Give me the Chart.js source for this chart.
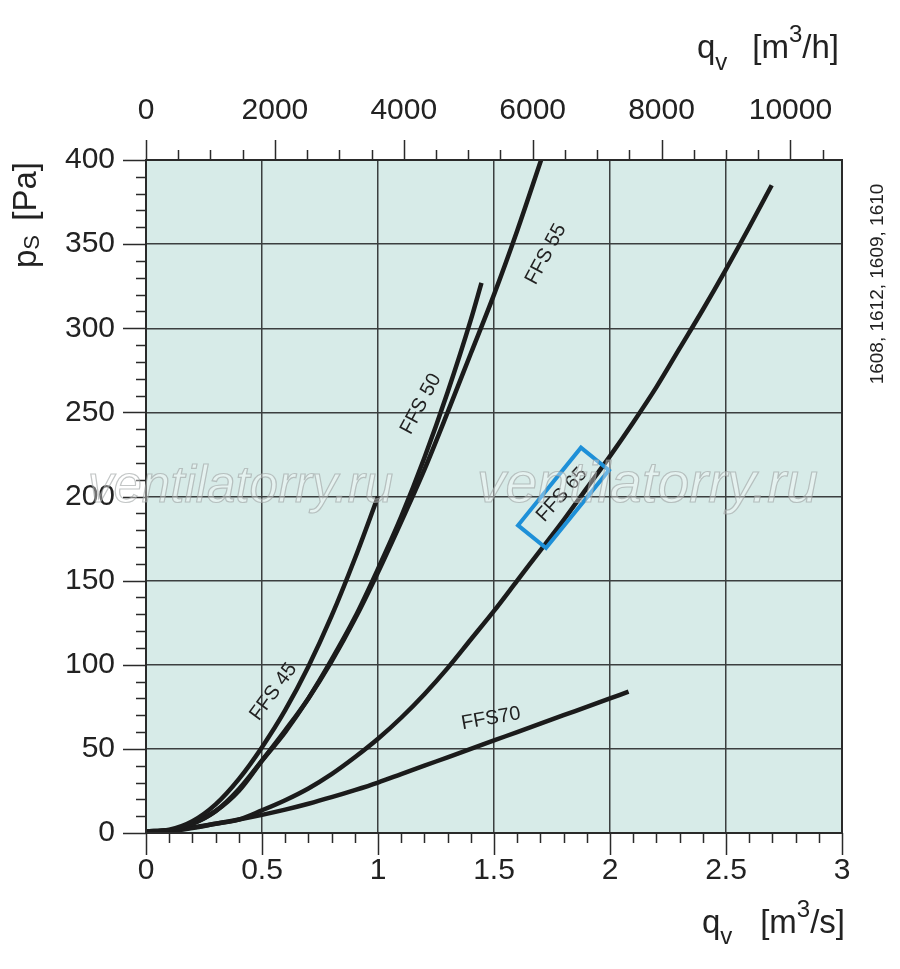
<!DOCTYPE html>
<html>
<head>
<meta charset="utf-8">
<script src="https://cdn.jsdelivr.net/npm/chart.js@4.4.1/dist/chart.umd.min.js"></script>
<style>
    html, body { margin: 0; padding: 0; background: #fff; }
    #wrap { width: 900px; height: 969px; }
</style>
</head>
<body>
<div id="wrap"><canvas id="fanChart" width="900" height="969"></canvas></div>
<script>
// air flow q_v [m3/s] and static pressure p_s [Pa]
const ffs45Flow = [0, 0.1, 0.2, 0.3, 0.4, 0.5, 0.6, 0.7, 0.8, 0.9, 1.0];
const ffs45Pressure = [1, 2, 7, 17, 32, 51, 73, 99, 129, 163, 200];

const ffs50Flow = [0, 0.1, 0.2, 0.3, 0.4, 0.5, 0.6, 0.7, 0.8, 0.9, 1.0, 1.1, 1.2, 1.3, 1.4, 1.446];
const ffs50Pressure = [1, 1.5, 5.5, 13, 26, 43, 60, 80, 103, 128, 157, 188, 223, 262, 305, 327];

const ffs55Flow = [0, 0.1, 0.2, 0.3, 0.4, 0.5, 0.6, 0.7, 0.8, 0.9, 1.0, 1.1, 1.2, 1.3, 1.4, 1.5, 1.6, 1.703];
const ffs55Pressure = [1, 1.5, 5.5, 13, 25, 43, 61, 80, 102, 127, 155, 185, 216, 250, 285, 320, 358, 400];

const ffs65Flow = [0, 0.1, 0.2, 0.3, 0.4, 0.5, 0.6, 0.7, 0.8, 0.9, 1.0, 1.1, 1.2, 1.3, 1.4, 1.5, 1.6, 1.7, 1.8, 1.9, 2.0, 2.1, 2.2, 2.3, 2.4, 2.5, 2.6, 2.697];
const ffs65Pressure = [1, 1.2, 3, 5.5, 8, 13.5, 19.5, 26.5, 35, 45, 56, 68.5, 82.5, 98, 115, 132, 150, 168, 186, 205, 224, 244, 265, 288, 311, 335, 360, 385];

const ffs70Flow = [0, 0.1, 0.2, 0.3, 0.4, 0.5, 0.6, 0.7, 0.8, 0.9, 1.0, 1.1, 1.2, 1.3, 1.4, 1.5, 1.6, 1.7, 1.8, 1.9, 2.0, 2.08];
const ffs70Pressure = [1, 1.6, 3.2, 5.5, 8, 10.8, 13.9, 17.4, 21.3, 25.5, 30, 35, 40, 45, 50, 55, 60, 65, 70, 75, 80, 84];

// tick labels
const flowTicks = [0, 0.5, 1, 1.5, 2, 2.5, 3];          // m3/s
const pressureTicks = [0, 50, 100, 150, 200, 250, 300, 350, 400];
const hourTicks = [0, 2000, 4000, 6000, 8000, 10000];   // m3/h

const seriesNames = ['FFS 45', 'FFS 50', 'FFS 55', 'FFS 65', 'FFS70'];
const seriesFlow = [ffs45Flow, ffs50Flow, ffs55Flow, ffs65Flow, ffs70Flow];
const seriesPressure = [ffs45Pressure, ffs50Pressure, ffs55Pressure, ffs65Pressure, ffs70Pressure];

const FONT = '"Liberation Sans", Arial, Helvetica, sans-serif';
const INK = '#222222';
const CURVE = '#1b1b1b';
const GRID = '#3b3f3f';
const PLOT_BG = '#d7ebe8';
const BOX_BLUE = '#1e90d8';

// where the curve names sit (in chart units)
const curveLabels = [
    { text: 'FFS 45', q: 0.55, p: 84, angle: -54 },
    { text: 'FFS 50', q: 1.185, p: 255, angle: -62 },
    { text: 'FFS 55', q: 1.724, p: 344, angle: -62 },
    { text: 'FFS 65', q: 1.793, p: 201, angle: -48 },
    { text: 'FFS70', q: 1.487, p: 68, angle: -10 }
];

const datasets = seriesNames.map((name, i) => ({
    label: name,
    data: seriesFlow[i].map((q, k) => ({ x: q, y: seriesPressure[i][k] })),
    borderColor: CURVE,
    borderWidth: 4.5,
    pointRadius: 0,
    fill: false,
    cubicInterpolationMode: 'monotone'
}));

function drawTicks(ctx, chart) {
    const a = chart.chartArea;
    const xs = chart.scales.x, ys = chart.scales.y, x2 = chart.scales.x2;
    ctx.strokeStyle = '#2a2a2a';
    ctx.lineWidth = 1.5;
    ctx.beginPath();
    // bottom: every 0.1 m3/s
    for (let i = 0; i <= 30; i++) {
        const px = Math.round(xs.getPixelForValue(i / 10)) + 0.5;
        const len = i % 5 === 0 ? 22 : 10;
        ctx.moveTo(px, a.bottom);
        ctx.lineTo(px, a.bottom + len);
    }
    // left: every 10 Pa
    for (let i = 0; i <= 40; i++) {
        const py = Math.round(ys.getPixelForValue(i * 10)) + 0.5;
        const len = i % 5 === 0 ? 23 : 10;
        ctx.moveTo(a.left, py);
        ctx.lineTo(a.left - len, py);
    }
    // top: every 500 m3/h
    for (let i = 0; i <= 21; i++) {
        const px = Math.round(x2.getPixelForValue(i * 500)) + 0.5;
        const len = i % 4 === 0 ? 20 : 10;
        ctx.moveTo(px, a.top);
        ctx.lineTo(px, a.top - len);
    }
    ctx.stroke();
}

// pieces: [text, font size, baseline shift]
function piecesWidth(ctx, pieces) {
    let w = 0;
    pieces.forEach(([str, size]) => {
        ctx.font = size + 'px ' + FONT;
        w += ctx.measureText(str).width;
    });
    return w;
}

function drawPieces(ctx, pieces, x, y) {
    let cx = x;
    pieces.forEach(([str, size, shift]) => {
        ctx.font = size + 'px ' + FONT;
        ctx.fillText(str, cx, y + shift);
        cx += ctx.measureText(str).width;
    });
}

// unit title: symbol starts at x0, bracket part ends at x1
function drawUnitTitle(ctx, symbol, unit, x0, x1, y) {
    drawPieces(ctx, symbol, x0, y);
    drawPieces(ctx, unit, x1 - piecesWidth(ctx, unit), y);
}

const decor = {
    id: 'decor',
    beforeDraw(chart) {
        const { ctx, chartArea: a } = chart;
        ctx.save();
        ctx.fillStyle = '#ffffff';
        ctx.fillRect(0, 0, chart.width, chart.height);
        ctx.fillStyle = PLOT_BG;
        ctx.fillRect(a.left, a.top, a.right - a.left, a.bottom - a.top);
        ctx.restore();
    },
    afterDraw(chart) {
        const { ctx, chartArea: a } = chart;
        const xs = chart.scales.x, ys = chart.scales.y;
        ctx.save();

        // frame
        ctx.strokeStyle = '#2a2a2a';
        ctx.lineWidth = 2;
        ctx.strokeRect(a.left, a.top, a.right - a.left, a.bottom - a.top);
        drawTicks(ctx, chart);

        // curve names
        ctx.fillStyle = INK;
        ctx.textAlign = 'center';
        ctx.textBaseline = 'middle';
        ctx.font = '20px ' + FONT;
        curveLabels.forEach(l => {
            ctx.save();
            ctx.translate(xs.getPixelForValue(l.q), ys.getPixelForValue(l.p));
            ctx.rotate(l.angle * Math.PI / 180);
            ctx.fillText(l.text, 0, 0);
            ctx.restore();
        });

        // blue frame around FFS 65
        ctx.save();
        ctx.translate(xs.getPixelForValue(1.7995), ys.getPixelForValue(199.2));
        ctx.rotate(-51 * Math.PI / 180);
        ctx.strokeStyle = BOX_BLUE;
        ctx.lineWidth = 4;
        ctx.strokeRect(-50, -18, 100, 36);
        ctx.restore();

        // watermark
        ctx.textAlign = 'left';
        ctx.textBaseline = 'alphabetic';
        ctx.fillStyle = 'rgba(255,255,255,0.35)';
        ctx.strokeStyle = 'rgba(155,160,160,0.6)';
        ctx.lineWidth = 1.2;
        [[88, 51], [477, 57]].forEach(([x, size]) => {
            ctx.font = 'italic ' + size + 'px ' + FONT;
            ctx.fillText('ventilatorry.ru', x, 502);
            ctx.strokeText('ventilatorry.ru', x, 502);
        });

        // axis titles
        ctx.fillStyle = INK;
        ctx.textAlign = 'left';
        ctx.textBaseline = 'alphabetic';
        // bottom q_v [m3/s]
        drawUnitTitle(ctx, [['q', 33, 0], ['v', 24, 11]],
            [['[m', 33, 0], ['3', 24, -16], ['/s]', 33, 0]], 702, 845, 933);
        // top q_v [m3/h]
        drawUnitTitle(ctx, [['q', 33, 0], ['v', 24, 12]],
            [['[m', 33, 0], ['3', 24, -16], ['/h]', 33, 0]], 697, 839, 58);
        // left p_S [Pa]
        ctx.save();
        ctx.translate(36, 268);
        ctx.rotate(-Math.PI / 2);
        drawUnitTitle(ctx, [['p', 33, 0], ['S', 22, 3]], [['[Pa]', 33, 0]], 0, 106, 0);
        ctx.restore();

        // series codes on the right
        ctx.save();
        ctx.translate(883, 284);
        ctx.rotate(-Math.PI / 2);
        ctx.font = '19px ' + FONT;
        ctx.textAlign = 'center';
        ctx.fillText('1608, 1612, 1609, 1610', 0, 0);
        ctx.restore();

        ctx.restore();
    }
};

const tickFont = { family: FONT, size: 30 };

new Chart(document.getElementById('fanChart'), {
    type: 'line',
    data: { datasets },
    options: {
        responsive: false,
        animation: false,
        devicePixelRatio: 1,
        layout: { padding: { left: 0, right: 58, top: 0, bottom: 0 } },
        plugins: { legend: { display: false }, tooltip: { enabled: false } },
        scales: {
            x: {
                type: 'linear', position: 'bottom', min: 0, max: 3,
                afterBuildTicks: s => { s.ticks = flowTicks.map(v => ({ value: v })); },
                afterFit: s => { s.height = 136; },
                ticks: { font: tickFont, color: INK, padding: 20, maxRotation: 0, autoSkip: false, callback: v => String(v) },
                grid: { color: GRID, lineWidth: 1.5, drawTicks: false },
                border: { display: false }
            },
            x2: {
                type: 'linear', position: 'top', min: 0, max: 3 * 3600,
                afterBuildTicks: s => { s.ticks = hourTicks.map(v => ({ value: v })); },
                afterFit: s => { s.height = 160; },
                ticks: { font: tickFont, color: INK, padding: 23, maxRotation: 0, autoSkip: false, callback: v => String(v) },
                grid: { display: false },
                border: { display: false }
            },
            y: {
                type: 'linear', position: 'left', min: 0, max: 400,
                afterBuildTicks: s => { s.ticks = pressureTicks.map(v => ({ value: v })); },
                afterFit: s => { s.width = 146; },
                ticks: { font: tickFont, color: INK, padding: 31, autoSkip: false, callback: v => String(v) },
                grid: { color: GRID, lineWidth: 1.5, drawTicks: false },
                border: { display: false }
            }
        }
    },
    plugins: [decor]
});
</script>
</body>
</html>
